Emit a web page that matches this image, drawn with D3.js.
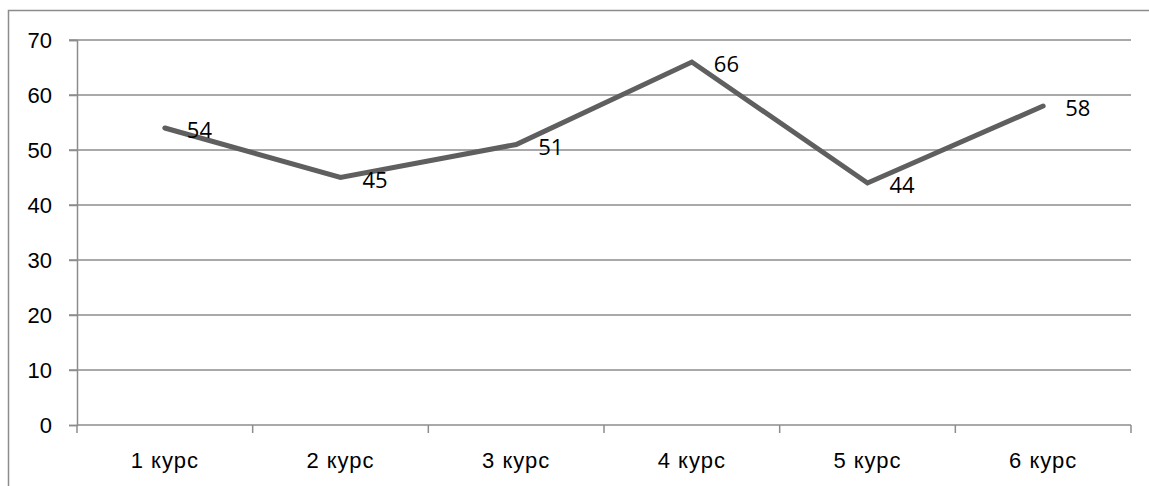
<!DOCTYPE html>
<html>
<head>
<meta charset="utf-8">
<script src="https://cdn.jsdelivr.net/npm/d3@7"></script>
<style>
  body { margin: 0; background: #fff; }
  svg { display: block; font-family: "Open Sans", "Noto Sans", sans-serif; }
</style>
</head>
<body>
<div id="chart"></div>
<script>
const categories = ["1 курс", "2 курс", "3 курс", "4 курс", "5 курс", "6 курс"];
const values = [54, 45, 51, 66, 44, 58];
const yTicks = [0, 10, 20, 30, 40, 50, 60, 70];

const W = 1149, H = 486;
const margin = {top: 40, left: 77, bottom: 61, right: 18};
const fs = 22;

const svg = d3.select("#chart").append("svg")
  .attr("width", W)
  .attr("height", H);

// outer frame (only left and top visible)
svg.append("path")
  .attr("d", `M8.5,${H} V10.5 H${W}`)
  .attr("fill", "none")
  .attr("stroke", "#8c8c8c")
  .attr("stroke-width", 1.5);

const x = d3.scaleBand()
  .domain(categories)
  .range([margin.left, W - margin.right]);

const y = d3.scaleLinear()
  .domain([0, 70])
  .range([H - margin.bottom, margin.top]);

// gridlines
svg.append("g")
  .selectAll("line")
  .data(yTicks.filter(d => d > 0))
  .join("line")
  .attr("x1", margin.left - 8)
  .attr("x2", W - margin.right)
  .attr("y1", d => y(d))
  .attr("y2", d => y(d))
  .attr("stroke", "#8c8c8c")
  .attr("stroke-width", 1.5);

// y axis
const yAxis = svg.append("g")
  .attr("transform", `translate(${margin.left},0)`)
  .call(d3.axisLeft(y).tickValues(yTicks).tickSize(8).tickPadding(17));
yAxis.select(".domain").attr("stroke", "#8c8c8c").attr("stroke-width", 1.5);
yAxis.selectAll(".tick line").attr("stroke", "#8c8c8c").attr("stroke-width", 1.5);
yAxis.selectAll("text")
  .style("font-size", fs + "px")
  .attr("fill", "#000")
  .attr("dy", "0.36em");

// x axis with ticks at band edges
const xAxis = svg.append("g")
  .attr("transform", `translate(0,${y(0)})`)
  .call(d3.axisBottom(x).tickSize(0));
xAxis.select(".domain").attr("d", `M${margin.left},0H${W - margin.right}`)
  .attr("stroke", "#8c8c8c").attr("stroke-width", 1.5);
xAxis.selectAll("text")
  .style("font-size", fs + "px")
  .style("letter-spacing", "1px")
  .attr("fill", "#000")
  .attr("dy", null)
  .attr("y", 43);
xAxis.append("g")
  .selectAll("line")
  .data(d3.range(categories.length + 1))
  .join("line")
  .attr("x1", i => margin.left + i * x.step())
  .attr("x2", i => margin.left + i * x.step())
  .attr("y1", 0)
  .attr("y2", 8)
  .attr("stroke", "#8c8c8c")
  .attr("stroke-width", 1.5);

// line
const line = d3.line()
  .x((d, i) => x(categories[i]) + x.bandwidth() / 2)
  .y(d => y(d));

svg.append("path")
  .datum(values)
  .attr("d", line)
  .attr("fill", "none")
  .attr("stroke", "#5f5f5f")
  .attr("stroke-width", 5)
  .attr("stroke-linecap", "round")
  .attr("stroke-linejoin", "miter");

// data labels
svg.append("g")
  .selectAll("text")
  .data(values)
  .join("text")
  .attr("x", (d, i) => x(categories[i]) + x.bandwidth() / 2 + 22)
  .attr("y", d => y(d) + 10)
  .style("font-size", fs + "px")
  .attr("fill", "#000")
  .text(d => d);
</script>
</body>
</html>
